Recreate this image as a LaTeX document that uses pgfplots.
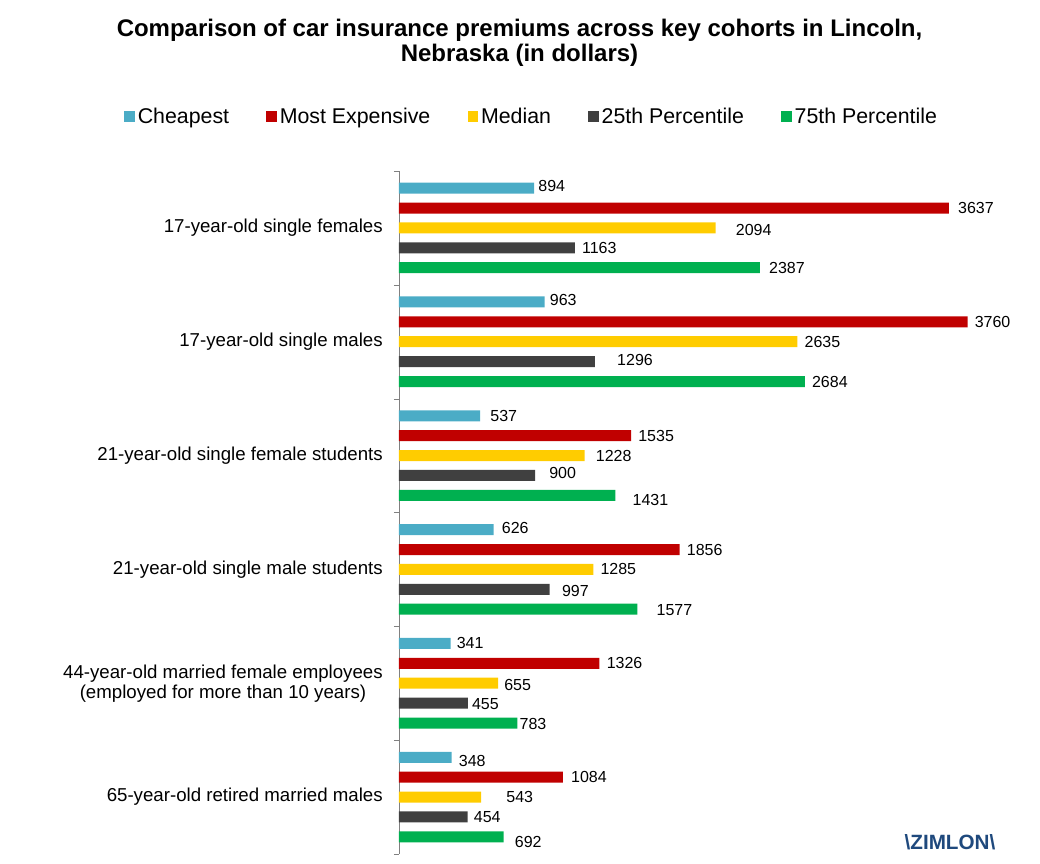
\documentclass[border=0pt]{standalone}
\usepackage{fontspec}
\setmainfont{Liberation Sans}
\usepackage{pgfplots}
\pgfplotsset{compat=1.18}
\usepackage{pgfplotstable}

\definecolor{cCheap}{HTML}{4BACC6}
\definecolor{cExp}{HTML}{C00000}
\definecolor{cMed}{HTML}{FFCC00}
\definecolor{cP25}{HTML}{404040}
\definecolor{cP75}{HTML}{00B050}
\definecolor{cLogo}{HTML}{1F497D}

% y = category position (5 = top), x = premium, dx/dy = label offsets in px
\pgfplotstableread{
y x dx dy
5 894 4 -2
4 963 5 -2
3 537 10 0
2 626 8 -2
1 341 6 0
0 348 7 4
}\cheap
\pgfplotstableread{
y x dx dy
5 3637 9 0
4 3760 7 0
3 1535 7 0
2 1856 7 0
1 1326 7 0
0 1084 8 0
}\expensive
\pgfplotstableread{
y x dx dy
5 2094 20 2
4 2635 7 0
3 1228 11 0
2 1285 7 0
1 655 6 2
0 543 25 0
}\median
\pgfplotstableread{
y x dx dy
5 1163 7 0
4 1296 22 -2
3 900 14 -2
2 997 12 2
1 455 4 1
0 454 6 0
}\pquart
\pgfplotstableread{
y x dx dy
5 2387 9 0
4 2684 7 0
3 1431 17 5
2 1577 19 1
1 783 2 1
0 692 11 5
}\tquart

\pgfplotsset{
  lbl/.style={
    draw=none,
    visualization depends on={\thisrow{dx}\as\dx},
    visualization depends on={\thisrow{dy}\as\dy},
    nodes near coords,
    nodes near coords style={anchor=west, inner sep=0pt, text=black,
      font=\fontsize{12}{14}\selectfont,
      xshift={\dx*0.75pt}, yshift={-\dy*0.75pt}},
  },
}

\begin{document}
\begin{tikzpicture}
\path[use as bounding box] (-299.25pt,-7.5pt) rectangle (480.75pt,640.5pt);
\begin{axis}[
  at={(0pt,0pt)}, anchor=south west,
  scale only axis,
  width=453.6pt, height=512.25pt,
  xmin=0, xmax=4000,
  ymin=-0.5, ymax=5.5,
  xbar, bar width=8.25pt,
  axis x line=none,
  axis y line*=left,
  y axis line style={draw=gray},
  ytick={0,1,2,3,4,5},
  yticklabels={{65-year-old retired married males},{44-year-old married female employees\\(employed for more than 10 years)},{21-year-old single male students},{21-year-old single female students},{17-year-old single males},{17-year-old single females}},
  yticklabel style={align=center, inner sep=0pt, xshift=-12pt, font=\fontsize{14}{15}\selectfont},
  major tick length=0pt,
  minor ytick={-0.5,0.5,1.5,2.5,3.5,4.5,5.5},
  minor tick length=3.75pt,
  tick align=outside,
  tick style={draw=gray},
  clip=false,
  /pgf/number format/1000 sep={},
  /pgf/number format/assume math mode=true,
  legend columns=5,
  legend style={at={(0.2200,1.080)}, anchor=center, draw=none,
    font=\fontsize{16}{19}\selectfont,
    /tikz/every even column/.append style={column sep=26pt},
    /tikz/every odd column/.append style={column sep=0pt}},
  legend image code/.code={\fill[#1] (0pt,-4pt) rectangle (8pt,4pt);},
]
\addplot[fill=cCheap, lbl, bar shift=29.85pt] table[x=x, y=y] {\cheap};
\addlegendentry{Cheapest}
\addplot[fill=cExp, lbl, bar shift=14.925pt] table[x=x, y=y] {\expensive};
\addlegendentry{Most Expensive}
\addplot[fill=cMed, lbl, bar shift=0pt] table[x=x, y=y] {\median};
\addlegendentry{Median}
\addplot[fill=cP25, lbl, bar shift=-14.925pt] table[x=x, y=y] {\pquart};
\addlegendentry{25th Percentile}
\addplot[fill=cP75, lbl, bar shift=-29.85pt] table[x=x, y=y] {\tquart};
\addlegendentry{75th Percentile}
\end{axis}
\node[font=\bfseries\fontsize{18}{19}\selectfont, align=center] at (90.4pt,608.6pt)
  {Comparison of car insurance premiums across key cohorts in Lincoln,\\Nebraska (in dollars)};
\node[font=\bfseries\fontsize{15.5}{17}\selectfont, text=cLogo] at (413.25pt,9pt)
  {\textbackslash ZIMLON\textbackslash};
\end{tikzpicture}
\end{document}
